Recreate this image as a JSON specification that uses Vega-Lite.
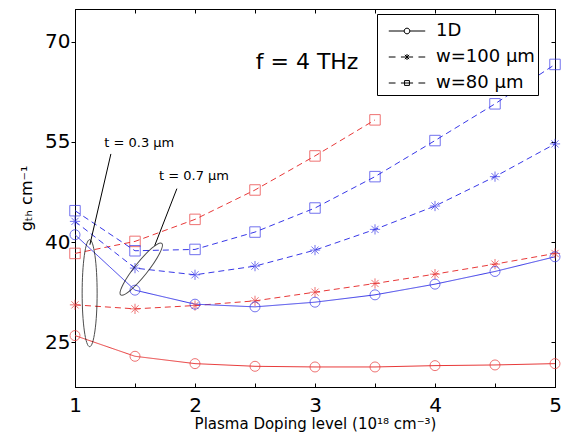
{
  "$schema": "https://vega.github.io/schema/vega-lite/v6.json",
  "width": 480,
  "height": 378,
  "autosize": {"type": "none"},
  "padding": {"left": 75, "top": 9, "right": 6, "bottom": 48},
  "background": "white",
  "config": {"view": {"stroke": "black", "strokeWidth": 1}, "font": "DejaVu Sans"},
  "data": {"values": [
    {"t": "0.3", "type": "1D", "x": 1, "g": 26.0},
    {"t": "0.3", "type": "1D", "x": 1.5, "g": 22.9},
    {"t": "0.3", "type": "1D", "x": 2, "g": 21.8},
    {"t": "0.3", "type": "1D", "x": 2.5, "g": 21.4},
    {"t": "0.3", "type": "1D", "x": 3, "g": 21.3},
    {"t": "0.3", "type": "1D", "x": 3.5, "g": 21.3},
    {"t": "0.3", "type": "1D", "x": 4, "g": 21.5},
    {"t": "0.3", "type": "1D", "x": 4.5, "g": 21.6},
    {"t": "0.3", "type": "1D", "x": 5, "g": 21.8},
    {"t": "0.3", "type": "w=100 µm", "x": 1, "g": 30.6},
    {"t": "0.3", "type": "w=100 µm", "x": 1.5, "g": 30.0},
    {"t": "0.3", "type": "w=100 µm", "x": 2, "g": 30.5},
    {"t": "0.3", "type": "w=100 µm", "x": 2.5, "g": 31.2},
    {"t": "0.3", "type": "w=100 µm", "x": 3, "g": 32.5},
    {"t": "0.3", "type": "w=100 µm", "x": 3.5, "g": 33.8},
    {"t": "0.3", "type": "w=100 µm", "x": 4, "g": 35.2},
    {"t": "0.3", "type": "w=100 µm", "x": 4.5, "g": 36.7},
    {"t": "0.3", "type": "w=100 µm", "x": 5, "g": 38.3},
    {"t": "0.3", "type": "w=80 µm", "x": 1, "g": 38.3},
    {"t": "0.3", "type": "w=80 µm", "x": 1.5, "g": 40.1},
    {"t": "0.3", "type": "w=80 µm", "x": 2, "g": 43.4},
    {"t": "0.3", "type": "w=80 µm", "x": 2.5, "g": 47.8},
    {"t": "0.3", "type": "w=80 µm", "x": 3, "g": 52.9},
    {"t": "0.3", "type": "w=80 µm", "x": 3.5, "g": 58.3},
    {"t": "0.7", "type": "1D", "x": 1, "g": 41.1},
    {"t": "0.7", "type": "1D", "x": 1.5, "g": 32.8},
    {"t": "0.7", "type": "1D", "x": 2, "g": 30.7},
    {"t": "0.7", "type": "1D", "x": 2.5, "g": 30.3},
    {"t": "0.7", "type": "1D", "x": 3, "g": 31.0},
    {"t": "0.7", "type": "1D", "x": 3.5, "g": 32.1},
    {"t": "0.7", "type": "1D", "x": 4, "g": 33.7},
    {"t": "0.7", "type": "1D", "x": 4.5, "g": 35.6},
    {"t": "0.7", "type": "1D", "x": 5, "g": 37.8},
    {"t": "0.7", "type": "w=100 µm", "x": 1, "g": 43.1},
    {"t": "0.7", "type": "w=100 µm", "x": 1.5, "g": 36.1},
    {"t": "0.7", "type": "w=100 µm", "x": 2, "g": 35.1},
    {"t": "0.7", "type": "w=100 µm", "x": 2.5, "g": 36.4},
    {"t": "0.7", "type": "w=100 µm", "x": 3, "g": 38.8},
    {"t": "0.7", "type": "w=100 µm", "x": 3.5, "g": 41.9},
    {"t": "0.7", "type": "w=100 µm", "x": 4, "g": 45.4},
    {"t": "0.7", "type": "w=100 µm", "x": 4.5, "g": 49.8},
    {"t": "0.7", "type": "w=100 µm", "x": 5, "g": 54.7},
    {"t": "0.7", "type": "w=80 µm", "x": 1, "g": 44.7},
    {"t": "0.7", "type": "w=80 µm", "x": 1.5, "g": 38.7},
    {"t": "0.7", "type": "w=80 µm", "x": 2, "g": 38.9},
    {"t": "0.7", "type": "w=80 µm", "x": 2.5, "g": 41.5},
    {"t": "0.7", "type": "w=80 µm", "x": 3, "g": 45.1},
    {"t": "0.7", "type": "w=80 µm", "x": 3.5, "g": 49.8},
    {"t": "0.7", "type": "w=80 µm", "x": 4, "g": 55.2},
    {"t": "0.7", "type": "w=80 µm", "x": 4.5, "g": 60.7},
    {"t": "0.7", "type": "w=80 µm", "x": 5, "g": 66.6}
  ]},
  "layer": [
    {
      "layer": [
        {
          "mark": {"type": "line", "strokeWidth": 1},
          "encoding": {
            "x": {"field": "x", "type": "quantitative",
              "scale": {"domain": [1, 5], "nice": false, "zero": false},
              "axis": {"values": [1, 1.5, 2, 2.5, 3, 3.5, 4, 4.5, 5],
                "labelExpr": "datum.value % 1 === 0 ? format(datum.value, 'd') : ''", "labelFlush": false,
                "tickSize": -4, "tickColor": "black", "domain": true, "domainColor": "black", "grid": false,
                "labelFont": "DejaVu Sans", "labelFontSize": 20, "labelColor": "black", "labelPadding": 12,
                "title": "Plasma Doping level (10¹⁸ cm⁻³)", "titleFont": "DejaVu Sans", "titleFontSize": 15,
                "titleFontWeight": "normal", "titleColor": "black", "titlePadding": 1}},
            "y": {"field": "g", "type": "quantitative",
              "scale": {"domain": [18.3, 74.9], "nice": false, "zero": false},
              "axis": {"values": [25, 40, 55, 70], "labelFlush": false,
                "tickSize": 4, "tickColor": "black", "domain": true, "domainColor": "black", "grid": false,
                "labelFont": "DejaVu Sans", "labelFontSize": 20, "labelColor": "black", "labelPadding": 1,
                "title": "gₜₕ cm⁻¹", "titleFont": "DejaVu Sans", "titleFontSize": 16,
                "titleFontWeight": "normal", "titleColor": "black", "titlePadding": 10}},
            "color": {"field": "t", "type": "nominal",
              "scale": {"domain": ["0.3", "0.7"], "range": ["#e83838", "#3838e8"]}, "legend": null},
            "strokeDash": {"field": "type", "type": "nominal",
              "scale": {"domain": ["1D", "w=100 µm", "w=80 µm"], "range": [[1, 0], [6, 4], [6, 4]]}, "legend": null}
          }
        },
        {
          "mark": {"type": "point", "filled": false, "strokeWidth": 1},
          "encoding": {
            "x": {"field": "x", "type": "quantitative"},
            "y": {"field": "g", "type": "quantitative"},
            "color": {"field": "t", "type": "nominal", "legend": null},
            "shape": {"field": "type", "type": "nominal",
              "scale": {"domain": ["1D", "w=100 µm", "w=80 µm"],
                "range": ["circle", "M-1,0H1M0,-1V1M-0.7,-0.7L0.7,0.7M-0.7,0.7L0.7,-0.7", "square"]}, "legend": null},
            "size": {"field": "type", "type": "nominal",
              "scale": {"domain": ["1D", "w=100 µm", "w=80 µm"], "range": [100, 110, 80]}, "legend": null}
          }
        },
        {
          "mark": {"type": "point", "opacity": 0, "color": "black"},
          "encoding": {
            "x": {"field": "x", "type": "quantitative"},
            "y": {"field": "g", "type": "quantitative"},
            "shape": {"field": "type", "type": "nominal",
              "scale": {"domain": ["1D", "w=100 µm", "w=80 µm"],
                "range": [
                  "M-1.35,0H-0.21M0.21,0H1.35M0.21,0A0.21,0.21 0 1,1 -0.21,0A0.21,0.21 0 1,1 0.21,0Z",
                  "M-1.35,0H-0.85M-0.45,0H0.45M0.85,0H1.35M0,-0.22V0.22M-0.16,-0.16L0.16,0.16M-0.16,0.16L0.16,-0.16",
                  "M-1.35,0H-0.85M-0.45,0H0.45M0.85,0H1.35M-0.18,-0.18H0.18V0.18H-0.18Z"
                ]},
              "legend": {"title": null, "orient": "none", "legendX": 302, "legendY": 5,
                "padding": 3, "strokeColor": "black", "fillColor": "white",
                "labelFont": "DejaVu Sans", "labelFontSize": 18, "labelColor": "black",
                "labelExpr": "datum.label + '   '",
                "symbolStrokeColor": "black", "symbolFillColor": "transparent", "symbolStrokeWidth": 1,
                "symbolOpacity": 1,
                "symbolOffset": 13, "labelOffset": 15, "rowPadding": 3, "symbolSize": 729,
                "encode": {"symbols": {"update": {
                  "opacity": {"value": 1}, "stroke": {"value": "black"}, "strokeWidth": {"value": 1},
                  "fill": {"value": "transparent"}, "size": {"value": 729}}}}}
            }
          }
        },
        {
          "data": {"values": [{}]},
          "mark": {"type": "point", "filled": false, "stroke": "black", "strokeWidth": 1, "size": 11449,
            "shape": "M0,-1A0.14,1 0 1,1 0,1A0.14,1 0 1,1 0,-1Z"},
          "encoding": {"x": {"datum": 1.122, "type": "quantitative"}, "y": {"datum": 32.35, "type": "quantitative"}}
        },
        {
          "data": {"values": [{}]},
          "mark": {"type": "point", "filled": false, "stroke": "black", "strokeWidth": 1, "size": 4356, "angle": -51.5,
            "shape": "M-1,0A1,0.2 0 1,1 1,0A1,0.2 0 1,1 -1,0Z"},
          "encoding": {"x": {"datum": 1.552, "type": "quantitative"}, "y": {"datum": 35.95, "type": "quantitative"}}
        },
        {
          "data": {"values": [{}]},
          "mark": {"type": "rule", "color": "black", "strokeWidth": 1},
          "encoding": {"x": {"datum": 1.299, "type": "quantitative"}, "y": {"datum": 53.2, "type": "quantitative"},
            "x2": {"datum": 1.124}, "y2": {"datum": 39.6}}
        },
        {
          "data": {"values": [{}]},
          "mark": {"type": "rule", "color": "black", "strokeWidth": 1},
          "encoding": {"x": {"datum": 1.849, "type": "quantitative"}, "y": {"datum": 48.0, "type": "quantitative"},
            "x2": {"datum": 1.664}, "y2": {"datum": 39.46}}
        },
        {
          "data": {"values": [{}]},
          "mark": {"type": "text", "text": "t = 0.3 µm", "align": "left", "baseline": "middle", "font": "DejaVu Sans", "fontSize": 13, "fontWeight": "normal", "color": "black"},
          "encoding": {"x": {"datum": 1.244, "type": "quantitative"}, "y": {"datum": 54.9, "type": "quantitative"}}
        },
        {
          "data": {"values": [{}]},
          "mark": {"type": "text", "text": "t = 0.7 µm", "align": "left", "baseline": "middle", "font": "DejaVu Sans", "fontSize": 13, "fontWeight": "normal", "color": "black"},
          "encoding": {"x": {"datum": 1.70, "type": "quantitative"}, "y": {"datum": 49.93, "type": "quantitative"}}
        },
        {
          "data": {"values": [{}]},
          "mark": {"type": "text", "text": "f = 4 THz", "align": "center", "baseline": "middle", "font": "DejaVu Sans", "fontSize": 22, "fontWeight": "normal", "color": "black"},
          "encoding": {"x": {"datum": 2.934, "type": "quantitative"}, "y": {"datum": 66.9, "type": "quantitative"}}
        }
      ],
      "resolve": {"scale": {"shape": "independent"}}
    },
    {
      "mark": {"type": "point", "opacity": 0},
      "encoding": {
        "x": {"field": "x", "type": "quantitative",
          "axis": {"orient": "top", "values": [1, 1.5, 2, 2.5, 3, 3.5, 4, 4.5, 5], "labels": false,
            "tickSize": -4, "tickColor": "black", "domain": true, "domainColor": "black", "grid": false, "title": null}},
        "y": {"field": "g", "type": "quantitative",
          "axis": {"orient": "right", "values": [25, 40, 55, 70], "labels": false,
            "tickSize": -4, "tickColor": "black", "domain": true, "domainColor": "black", "grid": false, "title": null}}
      }
    }
  ],
  "resolve": {"axis": {"x": "independent", "y": "independent"}}
}
